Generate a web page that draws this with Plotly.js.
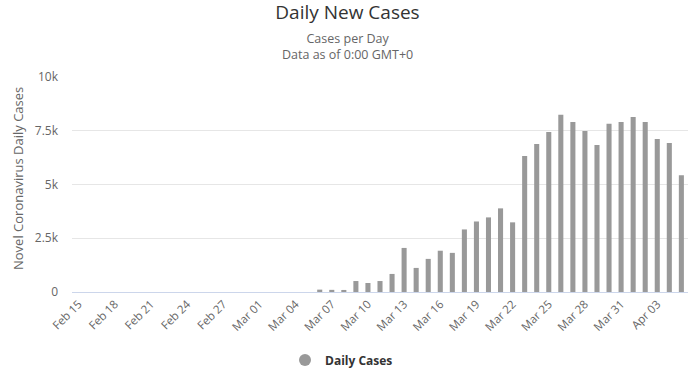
<!DOCTYPE html>
<html>
<head>
<meta charset="utf-8">
<script src="https://cdn.plot.ly/plotly-3.0.1.min.js"></script>
<style>html,body{margin:0;padding:0;background:#fff;}#chart{width:695px;height:375px;}</style>
</head>
<body>
<div id="chart"></div>
<script>
const dates = [
  "Feb 15","Feb 16","Feb 17","Feb 18","Feb 19","Feb 20","Feb 21","Feb 22","Feb 23","Feb 24",
  "Feb 25","Feb 26","Feb 27","Feb 28","Feb 29",
  "Mar 01","Mar 02","Mar 03","Mar 04","Mar 05","Mar 06","Mar 07","Mar 08","Mar 09","Mar 10",
  "Mar 11","Mar 12","Mar 13","Mar 14","Mar 15","Mar 16","Mar 17","Mar 18","Mar 19","Mar 20",
  "Mar 21","Mar 22","Mar 23","Mar 24","Mar 25","Mar 26","Mar 27","Mar 28","Mar 29","Mar 30","Mar 31",
  "Apr 01","Apr 02","Apr 03","Apr 04","Apr 05"
];
const dailyCases = [
  0,0,0,0,0,0,0,0,0,0,
  0,0,0,0,0,
  0,0,0,0,0,110,100,95,510,420,
  510,840,2050,1120,1540,1920,1820,2910,3280,3470,
  3890,3240,6320,6880,7440,8240,7910,7490,6840,7820,7910,
  8140,7910,7120,6930,5430
];
const xTickLabels = ["Feb 15","Feb 18","Feb 21","Feb 24","Feb 27","Mar 01","Mar 04","Mar 07","Mar 10",
  "Mar 13","Mar 16","Mar 19","Mar 22","Mar 25","Mar 28","Mar 31","Apr 03"];
const yTickVals = [0, 2500, 5000, 7500, 10000];
const yTickText = ["0", "2.5k", "5k", "7.5k", "10k"];
const seriesName = "Daily Cases";

const FONT = "Open Sans, DejaVu Sans, sans-serif";
const plotTop = 77, plotBottom = 292;
const py = (pix) => (plotBottom - pix) / (plotBottom - plotTop);

const traces = [
  {
    type: "bar", x: dates, y: dailyCases, name: seriesName,
    marker: {color: "#999999"}, showlegend: false, hoverinfo: "x+y"
  },
  {
    type: "scatter", mode: "markers", x: [null], y: [null], name: seriesName,
    marker: {color: "#999999", size: 12, symbol: "circle"}, showlegend: true
  }
];

const layout = {
  width: 695, height: 375,
  margin: {l: 72, r: 7, t: 77, b: 83},
  paper_bgcolor: "#ffffff", plot_bgcolor: "#ffffff",
  font: {family: FONT, color: "#666666", size: 11},
  bargap: 0.58,
  title: {
    text: "Daily New Cases",
    font: {family: FONT, size: 19, color: "#333333"},
    x: 0.5, xanchor: "center", xref: "container",
    y: 1 - 12/375, yanchor: "middle", yref: "container"
  },
  annotations: [
    {text: "Cases per Day<br>Data as of 0:00 GMT+0", xref: "paper", yref: "paper",
     x: (347 - 72)/616, y: py(47), xanchor: "center", yanchor: "middle", showarrow: false,
     font: {family: FONT, size: 12.5, color: "#666666"}},
    {text: "Novel Coronavirus Daily Cases", xref: "paper", yref: "paper",
     x: (18 - 72)/616, y: py(179), xanchor: "center", yanchor: "middle", textangle: -90, showarrow: false,
     font: {family: FONT, size: 13, color: "#666666"}}
  ],
  xaxis: {
    type: "category",
    tickmode: "array", tickvals: xTickLabels, ticktext: xTickLabels,
    tickangle: -45, ticks: "", showgrid: false, zeroline: false,
    showline: true, linecolor: "#ccd6eb", linewidth: 1,
    tickfont: {family: FONT, size: 11.5, color: "#666666"},
    range: [-0.55, 50.55], fixedrange: true
  },
  yaxis: {
    range: [0, 10000], tickmode: "array", tickvals: yTickVals, ticktext: yTickText,
    showgrid: true, gridcolor: "#e6e6e6", zeroline: false, showline: false,
    ticks: "", ticklabelstandoff: 13,
    tickfont: {family: FONT, size: 12, color: "#666666"}, fixedrange: true
  },
  showlegend: true,
  legend: {
    orientation: "h", x: (347.5 - 6)/695, xanchor: "center", xref: "container",
    y: 1 - 360/375, yanchor: "middle", yref: "container",
    font: {family: FONT, size: 12, color: "#333333", weight: "bold"}
  }
};

Plotly.newPlot("chart", traces, layout, {displayModeBar: false, staticPlot: true});
</script>
</body>
</html>
